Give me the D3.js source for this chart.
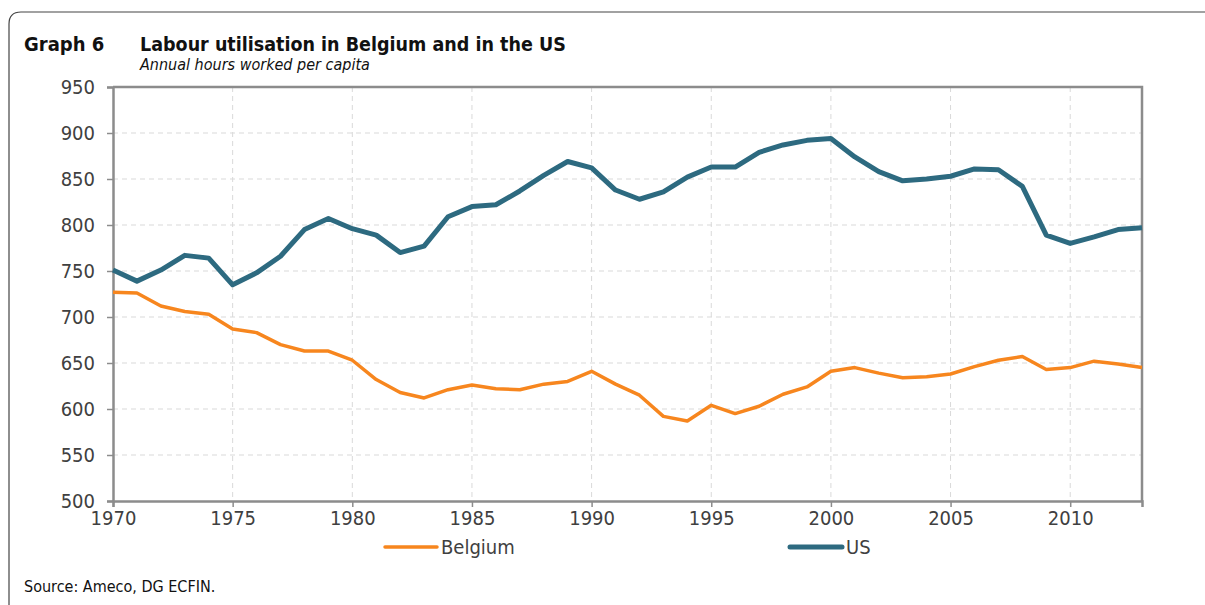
<!DOCTYPE html>
<html>
<head>
<meta charset="utf-8">
<script src="https://cdn.jsdelivr.net/npm/d3@7.9.0/dist/d3.min.js"></script>
<style>
  body { margin: 0; background: #fff; }
  svg { display: block; }
  .tick text { font-family: "DejaVu Sans Condensed", "DejaVu Sans", sans-serif; font-size: 20px; fill: #404040; }
</style>
</head>
<body>
<svg id="chart" width="1205" height="605"></svg>
<script>
// Data: annual hours worked per capita
const years = d3.range(1970, 2014);
const belgium = [727, 726, 712, 706, 703, 687, 683, 670, 663, 663,
                 653, 632, 618, 612, 621, 626, 622, 621, 627, 630,
                 641, 627, 615, 592, 587, 604, 595, 603, 616, 624,
                 641, 645, 639, 634, 635, 638, 646, 653, 657, 643,
                 645, 652, 649, 645];
const us = [751, 739, 751, 767, 764, 735, 748, 766, 795, 807,
            796, 789, 770, 777, 809, 820, 822, 837, 854, 869,
            862, 838, 828, 836, 852, 863, 863, 879, 887, 892,
            894, 874, 858, 848, 850, 853, 861, 860, 842, 789,
            780, 787, 795, 797];
const yTicks = [500, 550, 600, 650, 700, 750, 800, 850, 900, 950];
const xTicks = [1970, 1975, 1980, 1985, 1990, 1995, 2000, 2005, 2010];

const series = [
  { name: "Belgium", values: belgium, color: "#F7861E", width: 3.5 },
  { name: "US", values: us, color: "#2D6A80", width: 5 }
];

const font = "'DejaVu Sans Condensed', 'DejaVu Sans', sans-serif";
const svg = d3.select("#chart");
const margin = { left: 113, right: 1142, top: 87, bottom: 501 };

const x = d3.scaleLinear().domain([1970, 2013]).range([margin.left, margin.right]);
const y = d3.scaleLinear().domain([500, 950]).range([margin.bottom, margin.top]);

// outer frame with rounded corner
svg.append("path")
  .attr("d", "M9,605 L9,24 Q9,12 21,12 L1205,12")
  .attr("fill", "none")
  .attr("stroke", "#444")
  .attr("stroke-width", 1.2);

// titles
svg.append("text").attr("x", 24).attr("y", 51)
  .style("font-family", font)
  .style("font-weight", "bold").style("font-size", "20px").attr("fill", "#111")
  .text("Graph 6");
svg.append("text").attr("x", 140).attr("y", 51)
  .style("font-family", font)
  .style("font-weight", "bold").style("font-size", "19.5px").attr("fill", "#111")
  .text("Labour utilisation in Belgium and in the US");
svg.append("text").attr("x", 140).attr("y", 70)
  .style("font-family", font)
  .style("font-style", "italic").style("font-size", "16px").attr("fill", "#111")
  .text("Annual hours worked per capita");

// grid lines
svg.append("g").selectAll("line")
  .data(yTicks.slice(1, -1))
  .join("line")
  .attr("x1", margin.left).attr("x2", margin.right)
  .attr("y1", d => y(d)).attr("y2", d => y(d))
  .attr("stroke", "#d9d9d9").attr("stroke-dasharray", "5,4");
svg.append("g").selectAll("line")
  .data(xTicks.slice(1))
  .join("line")
  .attr("x1", d => x(d)).attr("x2", d => x(d))
  .attr("y1", margin.top).attr("y2", margin.bottom)
  .attr("stroke", "#d9d9d9").attr("stroke-dasharray", "5,4");

// plot frame (top + right)
svg.append("path")
  .attr("d", `M${margin.left},${margin.top} H${margin.right} V${margin.bottom}`)
  .attr("fill", "none").attr("stroke", "#8c8c8c").attr("stroke-width", 2.5);

// axes
const yAxis = svg.append("g")
  .attr("transform", `translate(${margin.left},0)`)
  .call(d3.axisLeft(y).tickValues(yTicks).tickSize(6).tickPadding(12));
const xAxis = svg.append("g")
  .attr("transform", `translate(0,${margin.bottom})`)
  .call(d3.axisBottom(x).tickValues(xTicks).tickFormat(d3.format("d")).tickSize(6).tickPadding(4));
[yAxis, xAxis].forEach(a => {
  a.select(".domain").attr("stroke", "#8c8c8c").attr("stroke-width", 2.5);
  a.selectAll(".tick line").attr("stroke", "#8c8c8c").attr("stroke-width", 1.5);
});

// lines
const line = d3.line().x((d, i) => x(years[i])).y(d => y(d));
series.forEach(s => {
  svg.append("path")
    .datum(s.values)
    .attr("d", line)
    .attr("fill", "none")
    .attr("stroke", s.color)
    .attr("stroke-width", s.width)
    .attr("stroke-linejoin", "round");
});

// legend
const legendPos = [385, 790];
series.forEach((s, i) => {
  const g = svg.append("g").attr("transform", `translate(${legendPos[i]},547)`);
  g.append("line").attr("x1", 0).attr("x2", 52)
    .attr("stroke", s.color).attr("stroke-width", s.width).attr("stroke-linecap", "round");
  g.append("text").attr("x", 56).attr("y", 7)
    .style("font-family", font)
    .style("font-size", "20px").attr("fill", "#404040")
    .text(s.name);
});

// source
svg.append("text").attr("x", 24).attr("y", 592)
  .style("font-family", font)
  .style("font-size", "16px").attr("fill", "#111")
  .text("Source: Ameco, DG ECFIN.");
</script>
</body>
</html>
